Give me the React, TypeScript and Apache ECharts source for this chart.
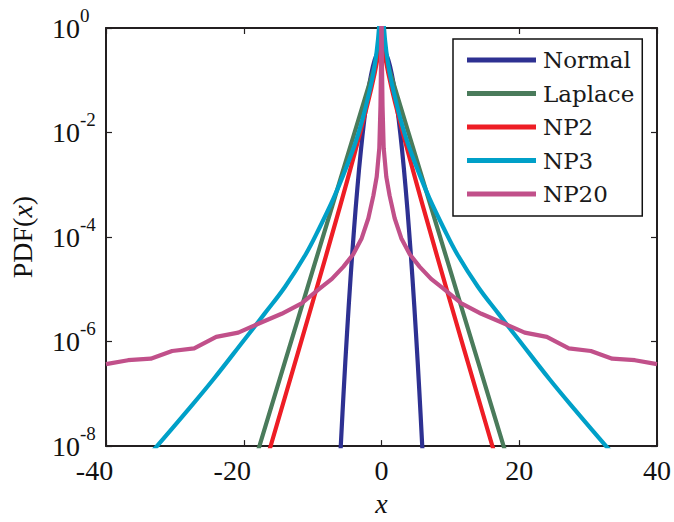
import React, { useEffect, useRef } from 'react';
import * as echarts from 'echarts';

// ---- data ----
const normalX = [-6, -5.5, -5, -4.5, -4, -3.5, -3, -2.5, -2, -1.5, -1, -0.5, -0.25, 0, 0.25, 0.5, 1, 1.5, 2, 2.5, 3, 3.5, 4, 4.5, 5, 5.5, 6];
const normalY = [6.1e-9, 1.08e-7, 1.49e-6, 1.6e-5, 1.34e-4, 8.73e-4, 4.43e-3, 1.75e-2, 5.4e-2, 0.1295, 0.242, 0.352, 0.387, 0.399, 0.387, 0.352, 0.242, 0.1295, 5.4e-2, 1.75e-2, 4.43e-3, 8.73e-4, 1.34e-4, 1.6e-5, 1.49e-6, 1.08e-7, 6.1e-9];

const laplaceX = [-18, -16, -14, -12, -10, -8, -6, -4, -2, 0, 2, 4, 6, 8, 10, 12, 14, 16, 18];
const laplaceY = [7.6e-9, 5.63e-8, 4.16e-7, 3.07e-6, 2.27e-5, 1.68e-4, 1.24e-3, 9.16e-3, 6.77e-2, 0.5, 6.77e-2, 9.16e-3, 1.24e-3, 1.68e-4, 2.27e-5, 3.07e-6, 4.16e-7, 5.63e-8, 7.6e-9];

const np2X = [-17, -16, -14, -12, -10, -8, -6, -5, -4, -3, -2, -1.5, -1, -0.5, -0.25, -0.1, -0.02, 0, 0.02, 0.1, 0.25, 0.5, 1, 1.5, 2, 3, 4, 5, 6, 8, 10, 12, 14, 16, 17];
const np2Y = [4.0e-9, 1.11e-8, 8.8e-8, 7.0e-7, 5.66e-6, 4.65e-5, 3.96e-4, 1.175e-3, 3.55e-3, 1.106e-2, 3.63e-2, 6.81e-2, 0.134, 0.294, 0.491, 0.773, 1.28, 5, 1.28, 0.773, 0.491, 0.294, 0.134, 6.81e-2, 3.63e-2, 1.106e-2, 3.55e-3, 1.175e-3, 3.96e-4, 4.65e-5, 5.66e-6, 7.0e-7, 8.8e-8, 1.11e-8, 4.0e-9];

const np3X = [-34, -32.6, -28, -24.4, -20, -17, -14, -11, -9, -7, -5.6, -3.8, -2.7, -2, -1.2, -0.7, -0.36, 0, 0.36, 0.7, 1.2, 2, 2.7, 3.8, 5.6, 7, 9, 11, 14, 17, 20, 24.4, 28, 32.6, 34];
const np3Y = [6.3e-9, 1e-8, 5.1e-8, 1.9e-7, 1.05e-6, 3.39e-6, 1.12e-5, 4.68e-5, 1.51e-4, 5.37e-4, 1.48e-3, 6.3e-3, 1.91e-2, 4.47e-2, 0.132, 0.355, 1.0, 8, 1.0, 0.355, 0.132, 4.47e-2, 1.91e-2, 6.3e-3, 1.48e-3, 5.37e-4, 1.51e-4, 4.68e-5, 1.12e-5, 3.39e-6, 1.05e-6, 1.9e-7, 5.1e-8, 1e-8, 6.3e-9];

const np20X = [-40, -36.8, -33.5, -30.4, -27.2, -24, -20.8, -17.9, -14.5, -11.6, -8.9, -7.2, -5.55, -4.1, -2.87, -1.91, -1.18, -0.7, -0.32, -0.15, -0.05, 0, 0.05, 0.15, 0.32, 0.7, 1.18, 1.91, 2.87, 4.1, 5.55, 7.2, 8.9, 11.6, 14.5, 17.9, 20.8, 24, 27.2, 30.4, 33.5, 36.8, 40];
const np20Y = [3.7e-7, 4.4e-7, 4.7e-7, 6.6e-7, 7.4e-7, 1.23e-6, 1.48e-6, 2.19e-6, 3.4e-6, 5.4e-6, 1.05e-5, 1.58e-5, 2.69e-5, 4.68e-5, 9.5e-5, 2.29e-4, 6.2e-4, 1.41e-3, 5.0e-3, 3.2e-2, 0.32, 20, 0.32, 3.2e-2, 5.0e-3, 1.41e-3, 6.2e-4, 2.29e-4, 9.5e-5, 4.68e-5, 2.69e-5, 1.58e-5, 1.05e-5, 5.4e-6, 3.4e-6, 2.19e-6, 1.48e-6, 1.23e-6, 7.4e-7, 6.6e-7, 4.7e-7, 4.4e-7, 3.7e-7];

const seriesNames = ['Normal', 'Laplace', 'NP2', 'NP3', 'NP20'];
const seriesColors = ['#2e3192', '#4a7b5b', '#ee1d25', '#00a0c8', '#c1508a'];
const seriesXs = [normalX, laplaceX, np2X, np3X, np20X];
const seriesYs = [normalY, laplaceY, np2Y, np3Y, np20Y];
const seriesSmooth = [0.4, false, false, 0.4, false];

const X_MIN = -40;
const X_MAX = 40;
const X_STEP = 20;
const Y_MIN = 1e-8;
const Y_MAX = 1;

const SERIF = "'Liberation Serif', 'Times New Roman', serif";
const AXIS_COLOR = '#231f20';

export default function App() {
  const ref = useRef<HTMLDivElement>(null);

  useEffect(() => {
    if (!ref.current) return;
    const chart = echarts.init(ref.current, null, { renderer: 'svg' });

    const axisLine = { show: true, onZero: false, lineStyle: { color: AXIS_COLOR, width: 2 } };
    const axisTick = { show: true, inside: true, length: 6, lineStyle: { color: AXIS_COLOR, width: 1.2 } };

    const xBase = {
      type: 'value' as const,
      min: X_MIN,
      max: X_MAX,
      interval: X_STEP,
      axisLine,
      axisTick,
      splitLine: { show: false },
    };
    const yBase = {
      type: 'log' as const,
      logBase: 100,
      min: Y_MIN,
      max: Y_MAX,
      axisLine,
      axisTick,
      splitLine: { show: false },
      minorTick: { show: false },
    };

    chart.setOption({
      animation: false,
      backgroundColor: '#ffffff',
      grid: { left: 106, right: 17, top: 28, bottom: 64, containLabel: false },
      xAxis: [
        {
          ...xBase,
          position: 'bottom',
          name: 'x',
          nameLocation: 'middle',
          nameGap: 32,
          nameTextStyle: { fontFamily: SERIF, fontStyle: 'italic', fontSize: 28, color: '#111', lineHeight: 28 },
          axisLabel: {
            margin: 10,
            color: '#111',
            fontFamily: SERIF,
            fontSize: 28,
            lineHeight: 28,
            formatter: (v: number) => (v < 0 ? `{n|${v}}` : `{p|${v}}`),
            rich: {
              n: { fontFamily: SERIF, fontSize: 28, lineHeight: 28, color: '#111', padding: [0, 23, 0, 0] },
              p: { fontFamily: SERIF, fontSize: 28, lineHeight: 28, color: '#111' },
            },
          },
        },
        {
          ...xBase,
          position: 'top',
          axisLabel: { show: false },
        },
      ],
      yAxis: [
        {
          ...yBase,
          position: 'left',
          name: '{n|PDF(}{i|x}{n|)}',
          nameLocation: 'middle',
          nameRotate: 90,
          nameGap: 70,
          nameTextStyle: {
            rich: {
              n: { fontFamily: SERIF, fontSize: 28, lineHeight: 28, color: '#111' },
              i: { fontFamily: SERIF, fontSize: 28, lineHeight: 28, color: '#111', fontStyle: 'italic' },
            },
          },
          axisLabel: {
            align: 'left',
            margin: 54,
            formatter: (v: number) => `{b|10}{s|${Math.round(Math.log10(v))}}`,
            rich: {
              b: { fontFamily: SERIF, fontSize: 28, lineHeight: 28, color: '#111' },
              s: { fontFamily: SERIF, fontSize: 19, lineHeight: 19, color: '#111', padding: [0, 0, 26, 0] },
            },
          },
        },
        {
          ...yBase,
          position: 'right',
          axisLabel: { show: false },
        },
      ],
      legend: {
        orient: 'vertical',
        left: 453,
        top: 39,
        padding: [9, 8, 10, 14],
        itemWidth: 69,
        itemHeight: 5,
        itemGap: 9.5,
        icon: 'rect',
        backgroundColor: '#ffffff',
        borderColor: '#111',
        borderWidth: 1.5,
        borderRadius: 0,
        selectedMode: false,
        textStyle: { fontFamily: "'DejaVu Serif', serif", fontSize: 23, lineHeight: 24, color: '#1a1a1a', padding: [0, 0, 0, 2] },
        data: seriesNames,
      },
      series: seriesNames.map((name, i) => ({
        name,
        type: 'line',
        xAxisIndex: 0,
        yAxisIndex: 0,
        symbol: 'none',
        clip: true,
        smooth: seriesSmooth[i],
        color: seriesColors[i],
        lineStyle: { color: seriesColors[i], width: 4.2, cap: 'butt', join: 'round' },
        itemStyle: { color: seriesColors[i] },
        emphasis: { disabled: true },
        data: seriesXs[i].map((x, k) => [x, seriesYs[i][k]]),
      })),
    });

    return () => {
      chart.dispose();
    };
  }, []);

  return (
    <div
      ref={ref}
      style={{ position: 'absolute', left: 0, top: 0, width: 674, height: 522, background: '#fff' }}
    />
  );
}
